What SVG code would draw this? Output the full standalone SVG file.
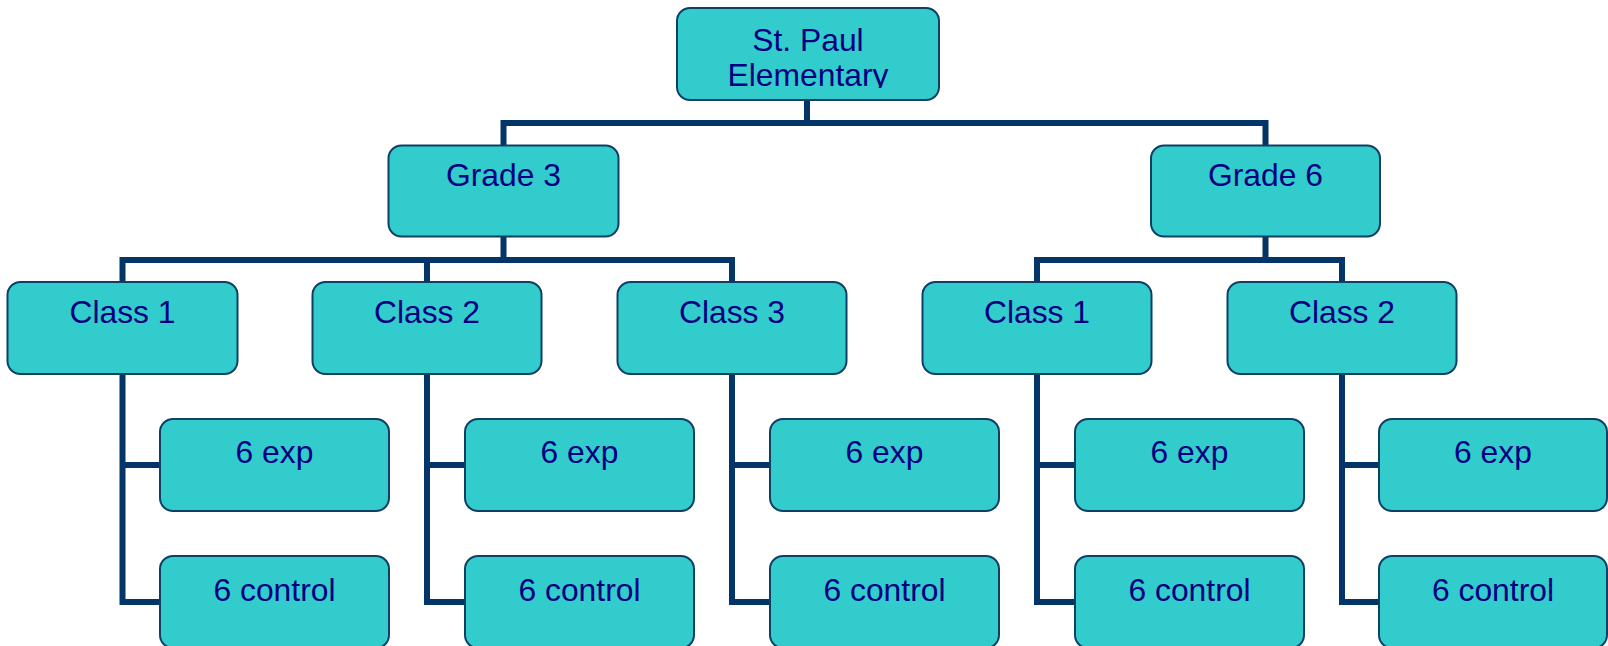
<svg xmlns="http://www.w3.org/2000/svg" width="1608" height="646" viewBox="0 0 1608 646">
<style>
.box{fill:#33CCCC;stroke:#0F3F66;stroke-width:2}
.t{font-family:"Liberation Sans",Arial,sans-serif;font-size:31.8px;fill:#000080;text-anchor:middle}
.c{fill:none;stroke:#043569;stroke-width:6;stroke-linejoin:miter;stroke-linecap:square}
</style>
<defs>
<clipPath id="topclip"><rect x="677" y="8" width="262" height="80"/></clipPath>
</defs>
<rect width="1608" height="646" fill="#FFFFFF"/>
<g id="connectors">
<path class="c" d="M807,100 V123 M503.5,123 H1265.5 M503.5,123 V146 M1265.5,123 V146"/>
<path class="c" d="M503.5,237 V260 M122.5,260 H732 M122.5,260 V282 M427,260 V282 M732,260 V282"/>
<path class="c" d="M1265.5,237 V260 M1037,260 H1342 M1037,260 V282 M1342,260 V282"/>
<path class="c" d="M122.5,374 V602 H160 M122.5,465 H160"/>
<path class="c" d="M427,374 V602 H465 M427,465 H465"/>
<path class="c" d="M732,374 V602 H770 M732,465 H770"/>
<path class="c" d="M1037,374 V602 H1075 M1037,465 H1075"/>
<path class="c" d="M1342,374 V602 H1379 M1342,465 H1379"/>
</g>
<g id="root"><rect class="box" x="677" y="8" width="262" height="92" rx="13"/>
<g clip-path="url(#topclip)"><text class="t" x="808" y="51">St. Paul</text><text class="t" x="808" y="86">Elementary</text></g></g>
<g id="grade3"><rect class="box" x="388.5" y="145.5" width="230" height="91" rx="13"/><text class="t" x="503.5" y="186">Grade 3</text></g>
<g id="grade6"><rect class="box" x="1151" y="145.5" width="229" height="91" rx="13"/><text class="t" x="1265.5" y="186">Grade 6</text></g>
<g id="g3class1"><rect class="box" x="7.5" y="282" width="230" height="92" rx="13"/><text class="t" x="122.5" y="323">Class 1</text></g>
<g id="g3class2"><rect class="box" x="312.5" y="282" width="229" height="92" rx="13"/><text class="t" x="427" y="323">Class 2</text></g>
<g id="g3class3"><rect class="box" x="617.5" y="282" width="229" height="92" rx="13"/><text class="t" x="732" y="323">Class 3</text></g>
<g id="g6class1"><rect class="box" x="922.5" y="282" width="229" height="92" rx="13"/><text class="t" x="1037" y="323">Class 1</text></g>
<g id="g6class2"><rect class="box" x="1227.5" y="282" width="229" height="92" rx="13"/><text class="t" x="1342" y="323">Class 2</text></g>
<g id="exp1"><rect class="box" x="160" y="419" width="229" height="92" rx="13"/><text class="t" x="274.5" y="463">6 exp</text></g>
<g id="ctl1"><rect class="box" x="160" y="556" width="229" height="92" rx="13"/><text class="t" x="274.5" y="601">6 control</text></g>
<g id="exp2"><rect class="box" x="465" y="419" width="229" height="92" rx="13"/><text class="t" x="579.5" y="463">6 exp</text></g>
<g id="ctl2"><rect class="box" x="465" y="556" width="229" height="92" rx="13"/><text class="t" x="579.5" y="601">6 control</text></g>
<g id="exp3"><rect class="box" x="770" y="419" width="229" height="92" rx="13"/><text class="t" x="884.5" y="463">6 exp</text></g>
<g id="ctl3"><rect class="box" x="770" y="556" width="229" height="92" rx="13"/><text class="t" x="884.5" y="601">6 control</text></g>
<g id="exp4"><rect class="box" x="1075" y="419" width="229" height="92" rx="13"/><text class="t" x="1189.5" y="463">6 exp</text></g>
<g id="ctl4"><rect class="box" x="1075" y="556" width="229" height="92" rx="13"/><text class="t" x="1189.5" y="601">6 control</text></g>
<g id="exp5"><rect class="box" x="1379" y="419" width="228" height="92" rx="13"/><text class="t" x="1493" y="463">6 exp</text></g>
<g id="ctl5"><rect class="box" x="1379" y="556" width="228" height="92" rx="13"/><text class="t" x="1493" y="601">6 control</text></g>
</svg>
